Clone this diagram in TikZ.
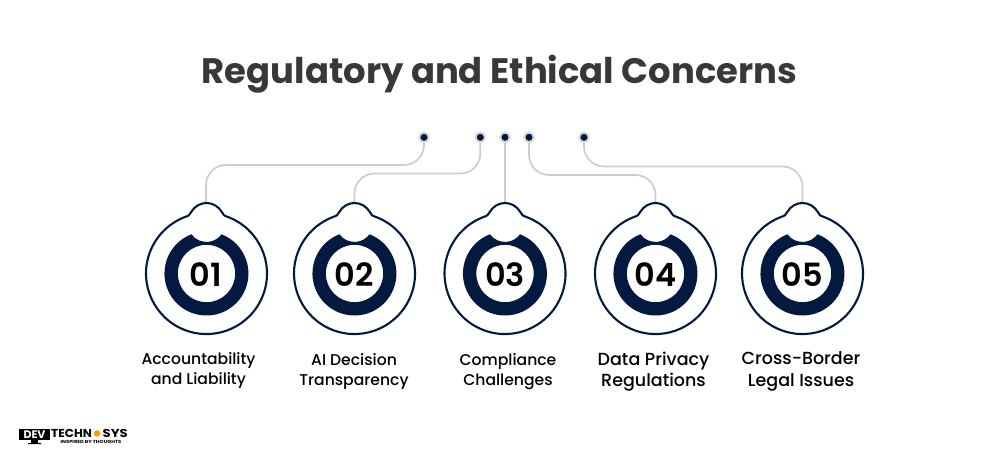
\documentclass[tikz,border=0pt]{standalone}
\usepackage{fontspec}
\setmainfont{Poppins}
\newfontfamily\medfont{Poppins}[UprightFont=* Medium]
\newfontfamily\semifont{Poppins}[UprightFont=* SemiBold]
\definecolor{navy}{HTML}{04193F}
\definecolor{wire}{HTML}{CDCDCD}
\definecolor{halo}{HTML}{D8D8D8}
\definecolor{titlecol}{HTML}{383838}
\tikzset{
  x=1pt,y=-1pt,
  wire/.style={draw=wire,line width=1.7pt,rounded corners=20pt},
  dotn/.style={circle,fill=navy,draw=halo,line width=2pt,inner sep=0pt,minimum size=9.5pt},
  num/.style={font=\semifont\fontsize{32}{32}\selectfont,text=black,inner sep=0pt},
  lab/.style={font=\medfont\fontsize{15.6}{20}\selectfont,text=black,align=center,inner sep=0pt},
  labbig/.style={font=\medfont\fontsize{17.5}{21.5}\selectfont,text=black,align=center,inner sep=0pt},
  ttl/.style={font=\bfseries\fontsize{35.4}{40}\selectfont,text=titlecol,inner sep=0pt},
  logotext/.style={font=\bfseries\fontsize{11.5}{11.5}\selectfont,text=black,inner sep=0pt},
  pics/badge/.style={code={
    \draw[navy,line width=2.1pt,fill=white]
      (-21,-56.7) .. controls (-17.5,-57.6) and (-16.8,-59) .. (-15.5,-61.2)
      .. controls (-12,-67.3) and (-6,-70.5) .. (0,-70.5)
      .. controls (6,-70.5) and (12,-67.3) .. (15.5,-61.2)
      .. controls (16.8,-59) and (17.5,-57.6) .. (21,-56.7)
      arc[start angle=-69.7,end angle=249.7,radius=60.5];
    \fill[navy,even odd rule]
      (15,-39.2) arc[start angle=-69,end angle=249,radius=42]
      arc[start angle=143.7,end angle=36.3,radius=18.7] -- cycle
      (28.7,0) arc[start angle=0,end angle=360,radius=28.7];
  }}
}
\begin{document}
\begin{tikzpicture}
\useasboundingbox (0,0) rectangle (1000,454);
\fill[white] (0,0) rectangle (1000,454);
\node[ttl] (title) at (499.5,74) {Regulatory and Ethical Concerns};

% dots
\node[dotn] (d1) at (424,137.3) {};
\node[dotn] (d2) at (480.3,137.3) {};
\node[dotn] (d3) at (505,137.3) {};
\node[dotn] (d4) at (529,137.3) {};
\node[dotn] (d5) at (584,137.3) {};

% bump tops and elbow points
\coordinate (t1) at (206,203);
\coordinate (t2) at (354.5,203);
\coordinate (t3) at (505,203);
\coordinate (t4) at (655.5,203);
\coordinate (t5) at (802.5,203);
\coordinate (m1) at (206,165);
\coordinate (m2) at (354.5,173.5);
\coordinate (m4) at (655.5,175);
\coordinate (m5) at (802.5,166.5);

\draw[wire] (d1.south) -- (d1.south|-m1) -- (m1) -- (t1);
\draw[wire] (d2.south) -- (d2.south|-m2) -- (m2) -- (t2);
\draw[wire] (d3.south) -- (t3);
\draw[wire] (d4.south) -- (d4.south|-m4) -- (m4) -- (t4);
\draw[wire] (d5.south) -- (d5.south|-m5) -- (m5) -- (t5);

\pic at (206.5,273.5) {badge};
\pic at (354.5,273.5) {badge};
\pic at (505,273.5) {badge};
\pic at (655.5,273.5) {badge};
\pic at (802.5,273.5) {badge};

\node[num] (n1) at (206,274.5) {01};
\node[num] (n2) at (354.5,274.5) {02};
\node[num] (n3) at (505,274.5) {03};
\node[num] (n4) at (655.5,274.5) {04};
\node[num] (n5) at (802.5,274.5) {05};

\node[lab] (l1) at (198.5,370.5) {Accountability\\and Liability};
\node[lab] (l2) at (354,371.5) {AI Decision\\Transparency};
\node[lab] (l3) at (508,371.5) {Compliance\\Challenges};
\node[labbig] (l4) at (653.5,371.5) {Data Privacy\\Regulations};
\node[labbig] (l5) at (801,371.5) {Cross-Border\\Legal Issues};

% logo
\fill[black] (19,429) rectangle (49.5,440);
\fill[black] (31,440) rectangle (38,443) (28,443) rectangle (41,444);
\node[font=\bfseries\fontsize{11}{11}\selectfont,text=white,inner sep=0pt] (logoa) at (34.5,434.5) {DEV};
\node[logotext,anchor=west,xscale=1.05] (logob) at (51,433) {TECHN};
\node[circle,fill=orange!80!yellow,inner sep=0pt,minimum size=6.5pt] (logoc) at (97,433.5) {};
\node[logotext,anchor=west,xscale=1.15] (logod) at (102.5,433) {SYS};
\node[font=\bfseries\fontsize{4.4}{5}\selectfont,text=black,inner sep=0pt,xscale=1.17] (logoe) at (91,442) {INSPIRED BY THOUGHTS};
\end{tikzpicture}
\end{document}
